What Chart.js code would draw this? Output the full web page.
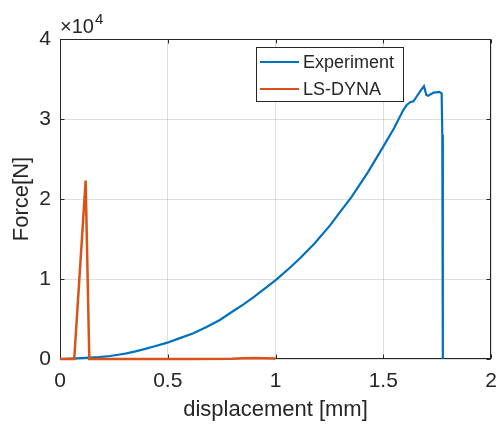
<!DOCTYPE html>
<html>
<head>
<meta charset="utf-8">
<script src="https://cdn.jsdelivr.net/npm/chart.js@4/dist/chart.umd.min.js"></script>
<style>
  html, body { margin: 0; padding: 0; background: #fff; }
  #wrap { width: 496px; height: 426px; }
</style>
</head>
<body>
<div id="wrap"><canvas id="c" width="496" height="426"></canvas></div>
<script>
// Measured force–displacement curve (displacement in mm, force in N)
const expDisp = [0, 0.05, 0.1, 0.139, 0.18, 0.232, 0.27, 0.309, 0.35, 0.387, 0.44, 0.498, 0.55, 0.619, 0.68, 0.742, 0.804, 0.85, 0.897, 0.95, 1.005, 1.06, 1.114, 1.18, 1.253, 1.30, 1.354, 1.43, 1.5, 1.55, 1.593, 1.609, 1.625, 1.64, 1.66, 1.675, 1.689, 1.70, 1.709, 1.72, 1.735, 1.76, 1.771, 1.774, 1.776, 1.777];
const expForce = [0, 40, 100, 160, 240, 375, 530, 710, 950, 1210, 1600, 2040, 2550, 3210, 4000, 4880, 6000, 6800, 7700, 8800, 9960, 11250, 12590, 14400, 16700, 18400, 20290, 23400, 26540, 28850, 31130, 31750, 32100, 32200, 33000, 33600, 34100, 33000, 32900, 33100, 33300, 33400, 33200, 28000, 15000, 0];

// Simulated curve
const simDisp = [0, 0.066, 0.119, 0.136, 0.2, 0.4, 0.6, 0.8, 0.85, 0.9, 0.95, 1.0];
const simForce = [0, 0, 22300, 0, 0, 0, 0, 20, 100, 130, 90, 60];

const seriesNames = ['Experiment', 'LS-DYNA'];
const seriesColors = ['#0072BD', '#D95319'];

const xTicks = [0, 0.5, 1, 1.5, 2];
const yTicks = [0, 10000, 20000, 30000, 40000];
const yExponent = 4;

const INK = '#262626';
const FONT = '"Liberation Sans", Arial, sans-serif';

const toPoints = (xs, ys) => xs.map((x, i) => ({ x: x, y: ys[i] }));

// Axes box and inward tick marks (under the curves), exponent label and legend (on top)
const matlabDecor = {
  id: 'matlabDecor',
  beforeDatasetsDraw(chart) {
    const { ctx, chartArea: a, scales } = chart;
    const L = Math.round(a.left) + 0.5, R = Math.round(a.right) - 0.5;
    const T = Math.round(a.top) + 0.5, B = Math.round(a.bottom) - 0.5;
    ctx.save();
    ctx.strokeStyle = INK;
    ctx.lineWidth = 1;
    ctx.strokeRect(L, T, R - L, B - T);
    const tl = 4;
    ctx.beginPath();
    xTicks.forEach(v => {
      const px = Math.round(scales.x.getPixelForValue(v)) + 0.5;
      ctx.moveTo(px, B); ctx.lineTo(px, B - tl);
      ctx.moveTo(px, T); ctx.lineTo(px, T + tl);
    });
    yTicks.forEach(v => {
      const py = Math.round(scales.y.getPixelForValue(v)) + 0.5;
      ctx.moveTo(L, py); ctx.lineTo(L + tl, py);
      ctx.moveTo(R, py); ctx.lineTo(R - tl, py);
    });
    ctx.stroke();
    ctx.restore();
  },
  afterDatasetsDraw(chart) {
    const { ctx, chartArea: a } = chart;
    ctx.save();
    // ×10^4 multiplier above the y axis
    ctx.fillStyle = INK;
    ctx.textBaseline = 'alphabetic';
    ctx.textAlign = 'left';
    ctx.font = '20px ' + FONT;
    const base = '\u00D710';
    ctx.fillText(base, a.left, a.top - 6);
    const w = ctx.measureText(base).width;
    ctx.font = '15px ' + FONT;
    ctx.fillText(String(yExponent), a.left + w + 1, a.top - 15);

    // Legend
    const bx = 256.5, by = 47.5, bw = 147, bh = 54;
    ctx.fillStyle = '#fff';
    ctx.fillRect(bx, by, bw, bh);
    ctx.strokeStyle = INK;
    ctx.lineWidth = 1;
    ctx.strokeRect(bx, by, bw, bh);
    ctx.font = '18px ' + FONT;
    ctx.textBaseline = 'middle';
    chart.data.datasets.forEach((ds, i) => {
      const y = 62 + i * 27;
      ctx.strokeStyle = ds.borderColor;
      ctx.lineWidth = 2;
      ctx.beginPath();
      ctx.moveTo(260, y); ctx.lineTo(299, y);
      ctx.stroke();
      ctx.fillStyle = INK;
      ctx.fillText(ds.label, 303, y + 1);
    });
    ctx.restore();
  }
};

new Chart(document.getElementById('c'), {
  type: 'line',
  data: {
    datasets: [
      { label: seriesNames[0], data: toPoints(expDisp, expForce), borderColor: seriesColors[0], borderWidth: 2.2, pointRadius: 0, fill: false, tension: 0, order: 1, clip: false },
      { label: seriesNames[1], data: toPoints(simDisp, simForce), borderColor: seriesColors[1], borderWidth: 2.5, pointRadius: 0, fill: false, tension: 0, order: 0, clip: false }
    ]
  },
  options: {
    responsive: false,
    animation: false,
    devicePixelRatio: 1,
    layout: { padding: { top: 39, right: 5, left: 0, bottom: 0 } },
    plugins: { legend: { display: false }, tooltip: { enabled: false } },
    scales: {
      x: {
        type: 'linear', min: 0, max: 2,
        afterBuildTicks: s => { s.ticks = xTicks.map(v => ({ value: v })); },
        afterFit: s => { s.height = 67; s.paddingLeft = 0; s.paddingRight = 0; },
        grid: { color: 'rgba(38,38,38,0.15)', drawTicks: false },
        border: { display: false },
        ticks: { color: INK, font: { family: FONT, size: 21 }, padding: 10, maxRotation: 0, callback: v => String(v) },
        title: { display: true, text: 'displacement [mm]', color: INK, font: { family: FONT, size: 22 }, padding: { top: 0, bottom: 3 } }
      },
      y: {
        type: 'linear', min: 0, max: 40000,
        afterBuildTicks: s => { s.ticks = yTicks.map(v => ({ value: v })); },
        afterFit: s => { s.width = 60; s.paddingTop = 0; s.paddingBottom = 0; },
        grid: { color: 'rgba(38,38,38,0.15)', drawTicks: false },
        border: { display: false },
        ticks: { color: INK, font: { family: FONT, size: 21 }, padding: 9, callback: v => String(v / Math.pow(10, yExponent)) },
        title: { display: true, text: 'Force[N]', color: INK, font: { family: FONT, size: 22 }, padding: { top: 9, bottom: 0 } }
      }
    }
  },
  plugins: [matlabDecor]
});
</script>
</body>
</html>
